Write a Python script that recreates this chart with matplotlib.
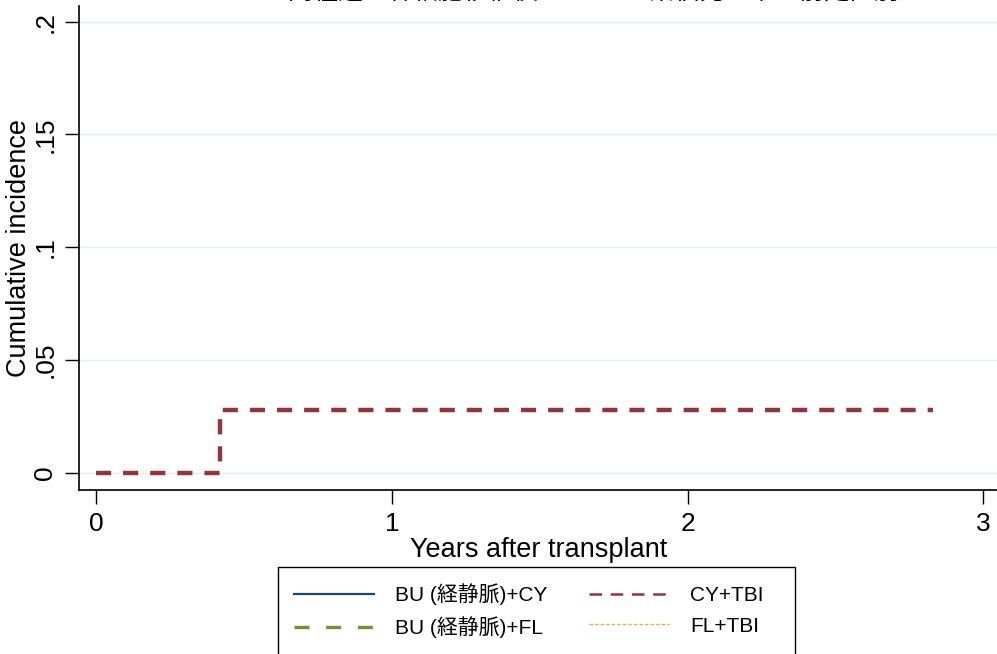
import matplotlib
matplotlib.use('Agg')
import matplotlib.pyplot as plt
from matplotlib.lines import Line2D
from matplotlib.patches import Rectangle

plt.rcParams['font.family'] = ['Liberation Sans', 'Noto Sans CJK JP', 'DejaVu Sans']

# cumulative incidence step data per conditioning regimen
groups = ['BU (経静脈)+CY', 'BU (経静脈)+FL', 'CY+TBI', 'FL+TBI']
times = {
    'BU (経静脈)+CY': [],
    'BU (経静脈)+FL': [],
    'CY+TBI': [0.0, 0.42, 2.83],
    'FL+TBI': [],
}
incidence = {
    'BU (経静脈)+CY': [],
    'BU (経静脈)+FL': [],
    'CY+TBI': [0.0, 0.028, 0.028],
    'FL+TBI': [],
}
xticks = [0, 1, 2, 3]
yticks = [0, 0.05, 0.1, 0.15, 0.2]
ytick_labels = ['0', '.05', '.1', '.15', '.2']

colors = {'BU (経静脈)+CY': '#1a476f', 'BU (経静脈)+FL': '#6f9235',
          'CY+TBI': '#90353b', 'FL+TBI': '#f6a35c'}
styles = {'BU (経静脈)+CY': '-', 'BU (経静脈)+FL': (0, (4.5, 5)),
          'CY+TBI': (0, (5, 3.5)), 'FL+TBI': (0, (2.5, 1.5))}
widths = {'BU (経静脈)+CY': 1.6, 'BU (経静脈)+FL': 2.4,
          'CY+TBI': 1.8, 'FL+TBI': 1.0}

fig = plt.figure(figsize=(9.97, 6.54), dpi=100)
ax = fig.add_axes([0.0797, 0.251, 0.9203, 0.740])

for g in groups:
    if times[g]:
        ax.step(times[g], incidence[g], where='post', color=colors[g],
                linestyle=(0, (3.4, 2.7)), lw=3.2)

ax.set_xlim(-0.056, 3.046)
ax.set_ylim(-0.0075, 0.207)
ax.set_xticks(xticks)
ax.set_xticklabels([str(t) for t in xticks], fontsize=19)
ax.set_yticks(yticks)
ax.set_yticklabels(ytick_labels, fontsize=19, rotation=90, va='center')
ax.tick_params(axis='both', length=10, width=1, direction='out', pad=6)
ax.yaxis.grid(True, color='#e8eef0', lw=1)
ax.set_axisbelow(True)
for s in ['top', 'right']:
    ax.spines[s].set_visible(False)
ax.spines['left'].set_linewidth(1.2)
ax.spines['bottom'].set_linewidth(1.2)

ax.set_xlabel('Years after transplant', fontsize=19.5, labelpad=1)
ax.set_ylabel('Cumulative incidence', fontsize=19.5, labelpad=1)

# title, mostly cut off at the top edge as in the original
fig.text(0.595, 1 - 3.5 / 654, '同種造血幹細胞移植後の GVHD 累積発生率：前処置別',
         ha='center', va='bottom', fontsize=18)

handles = [Line2D([], [], color=colors[g], linestyle=styles[g], lw=widths[g])
           for g in groups]
leg = fig.legend(handles, groups, loc='upper left', ncol=2,
                 bbox_to_anchor=(0.295, 0.108), fontsize=15,
                 frameon=False, handlelength=3.85,
                 columnspacing=2.0, handletextpad=1.0, borderpad=0,
                 borderaxespad=0, labelspacing=0.55)

# legend box runs past the bottom edge
fig.patches.append(Rectangle((0.279, -0.05), 0.518, 0.183, transform=fig.transFigure,
                             fill=False, edgecolor='black', lw=1.0))

fig.savefig('out.png', dpi=100)
